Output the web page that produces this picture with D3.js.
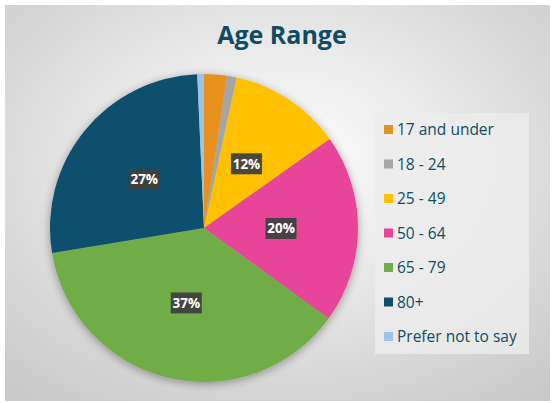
<!DOCTYPE html>
<html>
<head>
<meta charset="utf-8">
<script src="https://cdn.jsdelivr.net/npm/d3@7"></script>
<style>
  body { margin: 0; background: #fff; }
  svg { display: block; font-family: "Open Sans", "DejaVu Sans", sans-serif; }
</style>
</head>
<body>
<svg id="chart" width="552" height="403"></svg>
<script>
(() => {
    // data (percent of respondents)
    const categories = ["17 and under", "18 - 24", "25 - 49", "50 - 64", "65 - 79", "80+", "Prefer not to say"];
    const shares = [2.4, 1.0, 11.8, 19.8, 37.4, 26.9, 0.7];
    const colors = ["#e8901e", "#a5a5a5", "#ffc000", "#e8449a", "#70ad47", "#0b4f6c", "#9dc3e6"];
    const title = "Age Range";

    const svg = d3.select("svg#chart");
    const width = +svg.attr("width");
    const height = +svg.attr("height");

    // background gradient (light centre, grey edges)
    const defs = svg.append("defs");
    const grad = defs.append("radialGradient")
        .attr("id", "bg")
        .attr("cx", "50%").attr("cy", "40%").attr("r", "75%");
    grad.append("stop").attr("offset", "0%").attr("stop-color", "#ffffff");
    grad.append("stop").attr("offset", "100%").attr("stop-color", "#c9c9c9");

    const shadow = defs.append("filter").attr("id", "shadow")
        .attr("x", "-20%").attr("y", "-20%").attr("width", "140%").attr("height", "140%");
    shadow.append("feGaussianBlur").attr("in", "SourceAlpha").attr("stdDeviation", 5);
    shadow.append("feOffset").attr("dx", 0).attr("dy", 2).attr("result", "blur");
    shadow.append("feComponentTransfer").append("feFuncA").attr("type", "linear").attr("slope", 0.35);
    const merge = shadow.append("feMerge");
    merge.append("feMergeNode");
    merge.append("feMergeNode").attr("in", "SourceGraphic");

    svg.append("rect")
        .attr("x", 5).attr("y", 5)
        .attr("width", width - 7).attr("height", height - 7)
        .attr("fill", "url(#bg)");

    // title
    svg.append("text")
        .attr("x", 282)
        .attr("y", 44)
        .attr("text-anchor", "middle")
        .attr("fill", "#0f4c63")
        .attr("font-size", 25)
        .attr("font-weight", "bold")
        .text(title);

    // pie
    const cx = 204, cy = 228, radius = 154;
    const table = categories.map((c, i) => ({ name: c, value: shares[i], color: colors[i] }));
    const pie = d3.pie().value(d => d.value).sort(null);
    const arc = d3.arc().innerRadius(0).outerRadius(radius);
    const labelArc = d3.arc().innerRadius(radius * 0.5).outerRadius(radius * 0.5);

    const pieGroup = svg.append("g").attr("transform", `translate(${cx}, ${cy})`);
    const arcs = pie(table);

    pieGroup.append("g")
        .attr("filter", "url(#shadow)")
        .selectAll("path")
        .data(arcs)
        .enter()
        .append("path")
        .attr("d", arc)
        .attr("fill", d => d.data.color);

    // percentage labels for the larger slices only
    const labels = pieGroup.selectAll(".lbl")
        .data(arcs.filter(d => d.data.value >= 5))
        .enter()
        .append("g")
        .attr("class", "lbl")
        .attr("transform", d => `translate(${labelArc.centroid(d)})`);

    labels.append("rect")
        .attr("x", -15.5).attr("y", -10.5)
        .attr("width", 31).attr("height", 21)
        .attr("fill", "#404040")
        .attr("fill-opacity", 0.95);

    labels.append("text")
        .attr("text-anchor", "middle")
        .attr("dy", "0.36em")
        .attr("fill", "#ffffff")
        .attr("font-size", 13.5)
        .attr("font-weight", "bold")
        .text(d => Math.round(d.data.value) + "%");

    // legend
    const legend = svg.append("g").attr("transform", "translate(375, 113)");
    legend.append("rect")
        .attr("width", 154).attr("height", 241)
        .attr("fill", "#ececec")
        .attr("fill-opacity", 0.8);

    const rowY = d3.scalePoint()
        .domain(categories)
        .range([17, 224]);

    const items = legend.selectAll(".item")
        .data(table)
        .enter()
        .append("g")
        .attr("class", "item")
        .attr("transform", d => `translate(0, ${rowY(d.name)})`);

    items.append("rect")
        .attr("x", 9).attr("y", -5)
        .attr("width", 9).attr("height", 9)
        .attr("fill", d => d.color);

    items.append("text")
        .attr("x", 22)
        .attr("dy", "0.35em")
        .attr("fill", "#0f4c63")
        .attr("font-size", 15.5)
        .text(d => d.name);
})();
</script>
</body>
</html>
